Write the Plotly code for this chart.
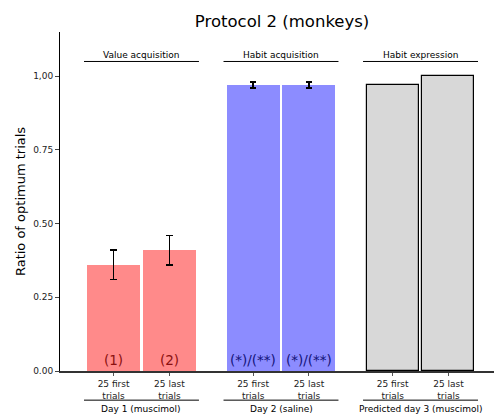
import plotly.graph_objects as go

# bar positions (3 groups of 2)
positions = [0, 1, 2.5, 3.5, 5, 6]
tick_labels = ["25 first<br>trials", "25 last<br>trials"] * 3
values = [0.36, 0.41, 0.97, 0.97, 0.97, 1.00]
errors = [0.05, 0.05, 0.01, 0.01, None, None]
bar_texts = ["(1)", "(2)", "(*)/(**)", "(*)/(**)", "", ""]
groups_top = ["Value acquisition", "Habit acquisition", "Habit expression"]
groups_bottom = ["Day 1 (muscimol)", "Day 2 (saline)", "Predicted day 3 (muscimol)"]

fnt = "DejaVu Sans"
fig = go.Figure()

# red: day 1
fig.add_trace(go.Bar(x=positions[0:2], y=values[0:2], width=0.95,
                     marker=dict(color="#FF8A8A", line=dict(width=0)),
                     error_y=dict(type="data", array=errors[0:2], color="black",
                                  thickness=1.3, width=3.5)))
# blue: day 2
fig.add_trace(go.Bar(x=positions[2:4], y=values[2:4], width=0.95,
                     marker=dict(color="#8C8CFF", line=dict(width=0)),
                     error_y=dict(type="data", array=errors[2:4], color="black",
                                  thickness=1.3, width=3)))
# gray: predicted day 3
fig.add_trace(go.Bar(x=positions[4:6], y=values[4:6], width=0.93,
                     marker=dict(color="#D8D8D8", line=dict(width=1.2, color="black"))))

# labels inside bars
for p, t, i in zip(positions, bar_texts, range(6)):
    if t:
        fig.add_annotation(x=p, y=0, text=t, showarrow=False, yanchor="bottom", yshift=1,
                           font=dict(family=fnt, size=13.5,
                                     color="#8B1010" if i < 2 else "#14147A"))

# group headers and footers
for g in range(3):
    a, b = positions[2 * g] - 0.53, positions[2 * g + 1] + 0.53
    mid = (positions[2 * g] + positions[2 * g + 1]) / 2
    fig.add_shape(type="line", x0=a, x1=b, y0=1.05, y1=1.05, xref="x", yref="y",
                  line=dict(color="black", width=1))
    fig.add_annotation(x=mid, y=1.05, text=groups_top[g], showarrow=False, yanchor="bottom",
                       yshift=-1, font=dict(family=fnt, size=9, color="black"))
    fig.add_shape(type="line", x0=a, x1=b, y0=-0.086, y1=-0.086, xref="x", yref="paper",
                  line=dict(color="black", width=1))
    fig.add_annotation(x=mid, y=-0.086, text=groups_bottom[g], showarrow=False,
                       yanchor="top", yref="paper", yshift=-2,
                       font=dict(family=fnt, size=9, color="black"))

fig.update_layout(
    width=502, height=417,
    margin=dict(l=52, r=8, t=24, b=54),
    plot_bgcolor="white", paper_bgcolor="white",
    showlegend=False, bargap=0,
    title=dict(text="Protocol 2 (monkeys)", x=0.546, xanchor="center", y=0.969, yanchor="middle",
               font=dict(family=fnt, size=16.5, color="black")),
    font=dict(family=fnt, color="black"),
    xaxis=dict(range=[-0.96, 6.96], tickvals=positions, ticktext=tick_labels,
               showline=True, linecolor="#333333", linewidth=2, ticks="outside",
               ticklen=3, tickcolor="#555555", tickfont=dict(size=9, color="#222222"),
               showgrid=False, zeroline=False),
    yaxis=dict(range=[0, 1.15], tickvals=[0, 0.25, 0.5, 0.75, 1.0],
               ticktext=["0.00", "0.25", "0.50", "0.75", "1,00"],
               showline=True, linecolor="black", linewidth=1, ticks="outside",
               ticklen=4, tickfont=dict(size=9, color="#222222"), showgrid=False,
               zeroline=False,
               title=dict(text="Ratio of optimum trials", font=dict(size=13), standoff=4)),
)

fig.write_html("out.html")
